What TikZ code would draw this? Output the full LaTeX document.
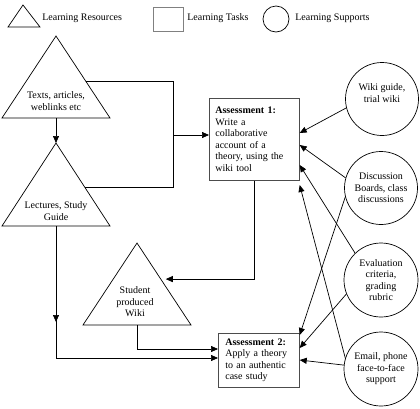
\documentclass[tikz,border=0pt]{standalone}
\usepackage{fontspec}
\setmainfont{Liberation Serif}
\usetikzlibrary{arrows.meta,calc}
\begin{document}
\begin{tikzpicture}[x=1pt,y=-1pt, line width=0.7pt,
  lbl/.style={font=\fontsize{10}{11.5}\selectfont, align=center, inner sep=0},
  legtext/.style={font=\fontsize{10}{11.5}\selectfont, anchor=west, inner sep=0},
  taskbox/.style={draw=gray!60!black, rectangle, inner ysep=0pt, font=\fontsize{10}{11.5}\selectfont, align=left, anchor=north west},
  support/.style={draw, circle, minimum size=73pt, inner sep=0},
  arr/.style={-{Triangle[length=7pt,width=6pt]}}
]
\useasboundingbox (0,0) rectangle (420,408);

% legend
\draw (8,27) -- (40,27) -- (23,5) -- cycle;
\node[legtext] (lg1) at (42,18) {Learning Resources};
\node[draw=gray, minimum width=30pt, minimum height=24pt, inner sep=0] (lgbox) at (168,19) {};
\node[legtext] (lg2) at (187,18) {Learning Tasks};
\node[draw, circle, minimum size=26pt, inner sep=0] (lgcirc) at (276,19) {};
\node[legtext] (lg3) at (295,18) {Learning Supports};

% triangles
\coordinate (t1a) at (56,36); \coordinate (t1l) at (2,118); \coordinate (t1r) at (110,118); \coordinate (t1b) at (56,118);
\draw (t1l) -- (t1a) -- (t1r) -- cycle;
\node[lbl] (t1) at (56,101) {Texts, articles,\\weblinks etc};

\coordinate (t2a) at (56,143); \coordinate (t2l) at (2,226); \coordinate (t2r) at (110,226); \coordinate (t2b) at (56,226);
\draw (t2l) -- (t2a) -- (t2r) -- cycle;
\node[lbl] (t2) at (56,211) {Lectures, Study\\Guide};

\coordinate (t3a) at (137,243); \coordinate (t3l) at (83,325); \coordinate (t3r) at (191,325); \coordinate (t3b) at (137,325);
\draw (t3l) -- (t3a) -- (t3r) -- cycle;
\node[lbl] (t3) at (135,302) {Student\\produced\\Wiki};

% task boxes
\node[taskbox, text width=78pt, inner xsep=6pt, minimum height=82pt] (box1) at (209,98)
  {\textbf{Assessment 1:}\\Write a\\collaborative\\account of a\\theory, using the\\wiki tool};
\node[taskbox, text width=67pt, inner xsep=7pt, minimum height=54pt] (box2) at (218,333)
  {\textbf{Assessment 2:}\\Apply a theory\\to an authentic\\case study};

% supports
\node[support] (c1) at (382,99) {};
\node[lbl] (c1t) at (382,93) {Wiki guide,\\trial wiki};
\node[support, lbl, draw, minimum size=73pt] (c2) at (381,188) {Discussion\\Boards, class\\discussions};
\node[support, lbl, draw, minimum size=74pt] (c3) at (381,280) {Evaluation\\criteria,\\grading\\rubric};
\node[support, lbl, draw, minimum size=74pt] (c4) at (381,369) {Email, phone\\face-to-face\\support};

% resource connectors
\draw[arr] (t1b) -- (t2a);
\coordinate (j) at (173,0);
\path (t1a) -- coordinate[pos=0.55] (p1) (t1r);
\path (t2a) -- coordinate[pos=0.54] (p2) (t2r);
\draw (p1) -- (p1 -| j) -- (p2 -| j) -- (p2);
\coordinate (jm) at (173,135);
\draw[arr] (jm) -- (jm -| box1.west);

\path (t3a) -- coordinate[pos=0.44] (p3) (t3r);
\draw[arr, shorten >=5pt] (box1.south) |- (p3);

\draw[arr] (t3b) |- (box2.west |- 0,349);
\coordinate (m2) at (56,322);
\draw[arr] (t2b) -- (m2);
\draw[arr] (t2b) |- (box2.west |- 0,358);

% support connectors
\draw[arr] (c1.194) -- (box1.east |- 0,133);
\draw[arr] (c2.164) -- (box1.east |- 0,145);
\draw[arr] (c3.134) -- (box1.east |- 0,165);
\draw[arr] (c4.163) -- (box1.east |- 0,185);
\draw[arr] (c2.194) -- (box2.east |- 0,335);
\draw[arr] (c3.202) -- (box2.east |- 0,348);
\draw[arr] (c4.174) -- (box2.east |- 0,360);
\end{tikzpicture}
\end{document}
